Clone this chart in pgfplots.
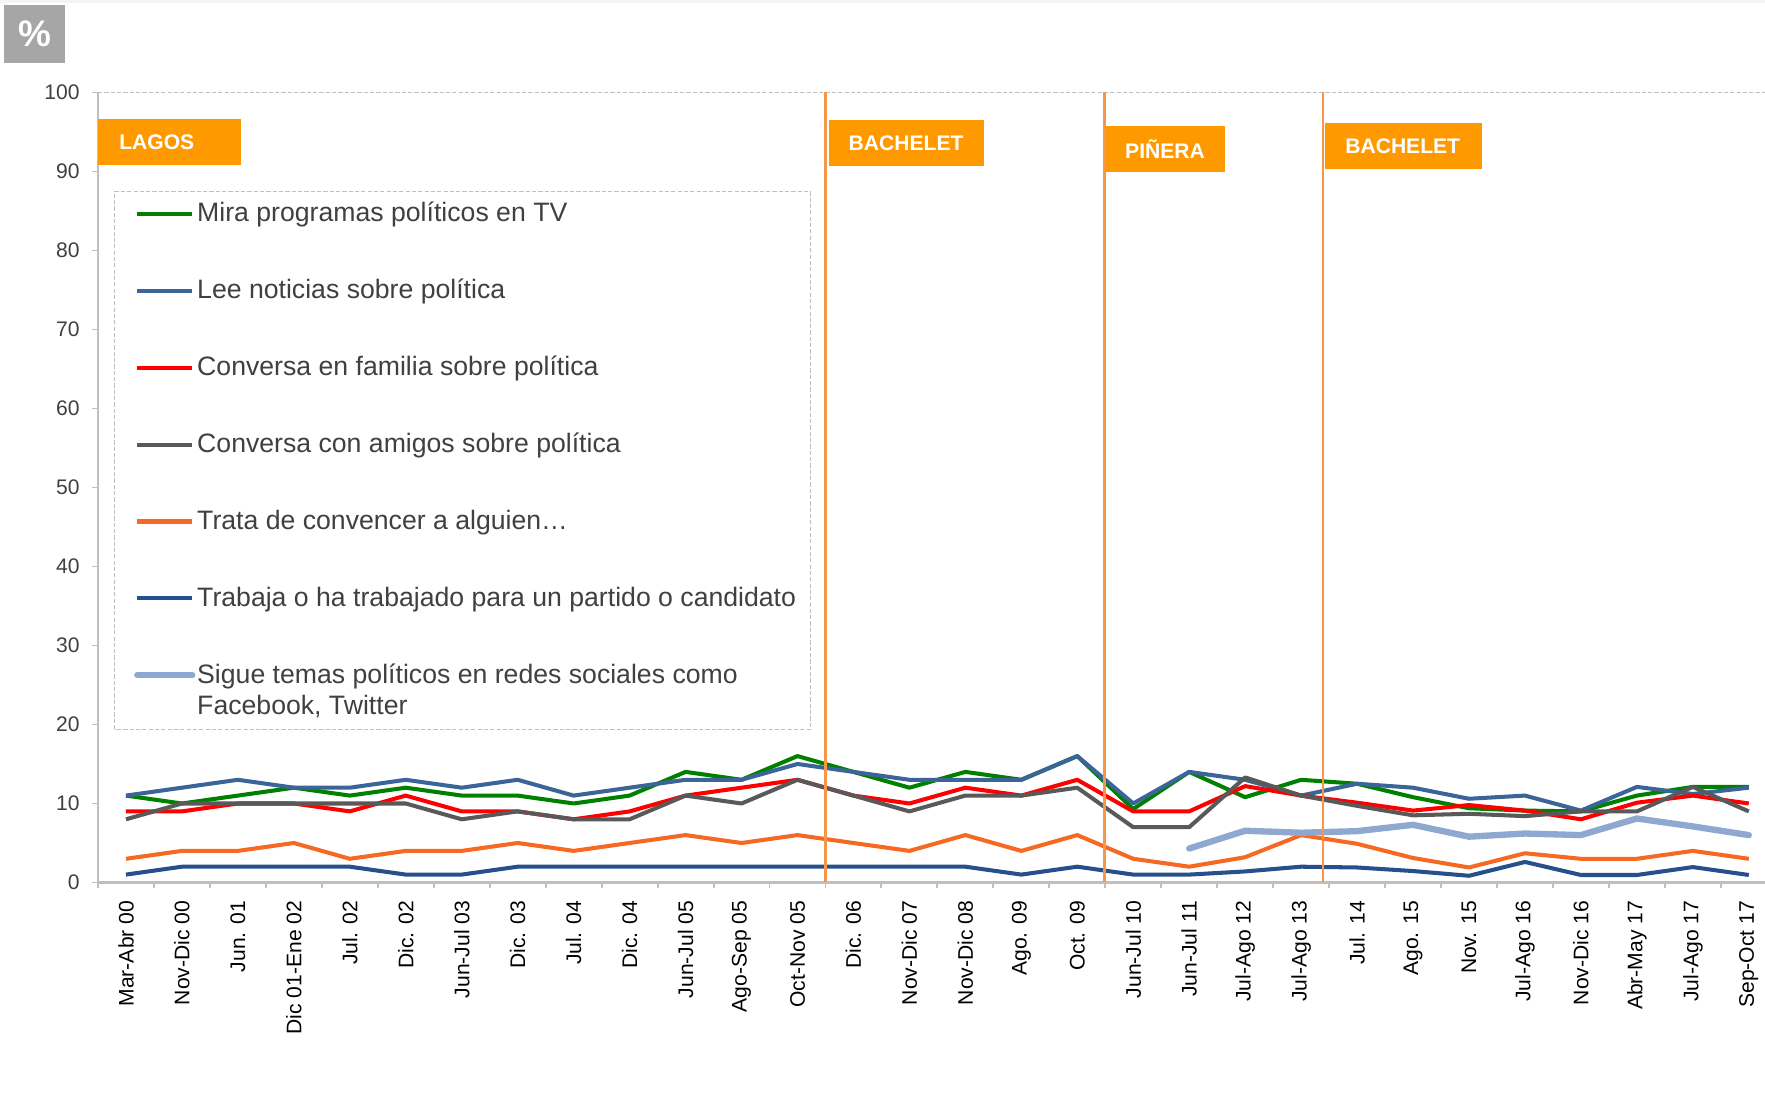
\documentclass[border=0pt]{standalone}
\usepackage{pgfplots}
\pgfplotsset{compat=1.18}
\usepackage{fontspec}
\setmainfont{Liberation Sans}

\definecolor{cTV}{RGB}{0,128,0}
\definecolor{cLee}{RGB}{59,100,152}
\definecolor{cFam}{RGB}{255,0,0}
\definecolor{cAmi}{RGB}{89,89,89}
\definecolor{cCon}{RGB}{245,105,35}
\definecolor{cTra}{RGB}{37,80,140}
\definecolor{cRed}{RGB}{142,168,208}
\definecolor{axgray}{RGB}{191,191,191}
\definecolor{labgray}{RGB}{64,64,64}
\definecolor{eraline}{RGB}{247,150,70}
\definecolor{erabox}{RGB}{255,153,0}
\definecolor{pctbox}{RGB}{166,166,166}

\begin{document}
\begin{tikzpicture}
\useasboundingbox (0,0) rectangle (17.65,11.15);
\fill[black!4] (0,11.115) rectangle (17.65,11.15);

\begin{axis}[
  at={(0.98cm,2.325cm)}, anchor=south west,
  scale only axis, width=16.67cm, height=7.9cm,
  xmin=-0.5, xmax=29.29, ymin=0, ymax=100,
  axis x line*=bottom, axis y line*=left,
  axis line style={-, draw=axgray, line width=0.65pt},
  xtick={0,...,29},
  xticklabels={Mar-Abr 00,Nov-Dic 00,Jun. 01,Dic 01-Ene 02,Jul. 02,Dic. 02,Jun-Jul 03,Dic. 03,Jul. 04,Dic. 04,Jun-Jul 05,Ago-Sep 05,Oct-Nov 05,Dic. 06,Nov-Dic 07,Nov-Dic 08,Ago. 09,Oct. 09,Jun-Jul 10,Jun-Jul 11,Jul-Ago 12,Jul-Ago 13,Jul. 14,Ago. 15,Nov. 15,Jul-Ago 16,Nov-Dic 16,Abr-May 17,Jul-Ago 17,Sep-Oct 17},
  major x tick style={draw=none},
  minor xtick={-0.5,0.5,...,29.5},
  ytick={0,10,...,100},
  tick align=outside,
  tick style={draw=axgray, line width=0.55pt},
  major tick length=1.7pt, minor tick length=1.7pt,
  x tick label style={rotate=90, anchor=east, font=\fontsize{6}{7}\selectfont, text=black},
  y tick label style={font=\fontsize{6}{7}\selectfont, text=labgray},
  /pgf/number format/assume math mode=true,
  every axis plot/.append style={line join=round, line width=1.15pt},
]
% Mira programas politicos en TV
\addplot[cTV] coordinates {
 (0,11) (1,10) (2,11) (3,12) (4,11) (5,12) (6,11) (7,11) (8,10) (9,11)
 (10,14) (11,13) (12,16) (13,14) (14,12) (15,14) (16,13) (17,16) (18,9.3) (19,14)
 (20,10.8) (21,13) (22,12.5) (23,10.8) (24,9.4) (25,9.1) (26,9.0) (27,11) (28,12.1) (29,12.1)};
% Lee noticias sobre politica
\addplot[cLee] coordinates {
 (0,11) (1,12) (2,13) (3,12) (4,12) (5,13) (6,12) (7,13) (8,11) (9,12)
 (10,13) (11,13) (12,15) (13,14) (14,13) (15,13) (16,13) (17,16) (18,10) (19,14)
 (20,13) (21,11) (22,12.5) (23,12.0) (24,10.6) (25,11) (26,9.1) (27,12.1) (28,11.2) (29,12)};
% Conversa en familia
\addplot[cFam] coordinates {
 (0,9) (1,9) (2,10) (3,10) (4,9) (5,11) (6,9) (7,9) (8,8) (9,9)
 (10,11) (11,12) (12,13) (13,11) (14,10) (15,12) (16,11) (17,13) (18,9) (19,9)
 (20,12.2) (21,11) (22,10.1) (23,9.1) (24,9.8) (25,9.1) (26,8.0) (27,10.1) (28,11) (29,10)};
% Conversa con amigos
\addplot[cAmi] coordinates {
 (0,8) (1,10) (2,10) (3,10) (4,10) (5,10) (6,8) (7,9) (8,8) (9,8)
 (10,11) (11,10) (12,13) (13,11) (14,9) (15,11) (16,11) (17,12) (18,7) (19,7)
 (20,13.3) (21,11) (22,9.7) (23,8.5) (24,8.7) (25,8.4) (26,9.0) (27,9.0) (28,12.1) (29,9.0)};
% Trata de convencer
\addplot[cCon] coordinates {
 (0,3) (1,4) (2,4) (3,5) (4,3) (5,4) (6,4) (7,5) (8,4) (9,5)
 (10,6) (11,5) (12,6) (13,5) (14,4) (15,6) (16,4) (17,6) (18,3) (19,2)
 (20,3.2) (21,6) (22,4.9) (23,3.1) (24,1.9) (25,3.7) (26,3.0) (27,3.0) (28,4.0) (29,3.0)};
% Trabaja para un partido
\addplot[cTra] coordinates {
 (0,1) (1,2) (2,2) (3,2) (4,2) (5,1) (6,1) (7,2) (8,2) (9,2)
 (10,2) (11,2) (12,2) (13,2) (14,2) (15,2) (16,1) (17,2) (18,1) (19,1)
 (20,1.4) (21,2) (22,1.9) (23,1.45) (24,0.85) (25,2.6) (26,0.95) (27,0.95) (28,1.95) (29,0.95)};
% Sigue temas en redes sociales
\addplot[cRed, line width=1.8pt, line cap=round] coordinates {
 (19,4.3) (20,6.55) (21,6.3) (22,6.5) (23,7.3) (24,5.8) (25,6.2) (26,6.0) (27,8.1) (28,7.1) (29,6.0)};

\draw[axgray, line width=0.3pt, dash pattern=on 1.2pt off 0.6pt] (rel axis cs:0,1) -- (rel axis cs:1,1);
\draw[eraline, line width=0.8pt] (axis cs:12.5,0) -- (axis cs:12.5,100);
\draw[eraline, line width=0.8pt] (axis cs:17.48,0) -- (axis cs:17.48,100);
\draw[eraline, line width=0.8pt] (axis cs:21.39,0) -- (axis cs:21.39,100);
\end{axis}

% percent box
\fill[pctbox] (0.04,10.517) rectangle (0.65,11.10);
\node[text=white, font=\fontsize{10.5}{12}\selectfont\bfseries] at (0.345,10.81) {\%};

% era boxes
\begin{scope}[font=\fontsize{6}{7}\selectfont\bfseries, every node/.style={text=white, inner sep=0pt, anchor=west}]
\fill[erabox] (0.976,9.50) rectangle (2.41,9.96);
\node at (1.186,9.73) {LAGOS};
\fill[erabox] (8.29,9.493) rectangle (9.84,9.95);
\node at (8.48,9.72) {BACHELET};
\fill[erabox] (11.05,9.433) rectangle (12.25,9.89);
\node at (11.245,9.66) {PIÑERA};
\fill[erabox] (13.245,9.463) rectangle (14.817,9.92);
\node at (13.446,9.69) {BACHELET};
\end{scope}

% legend
\draw[axgray, line width=0.3pt, dash pattern=on 1.2pt off 0.6pt] (1.147,3.857) rectangle (8.105,9.236);
\begin{scope}[font=\fontsize{7.58}{9.1}\selectfont, every node/.style={text=labgray, inner sep=0pt, anchor=base west}, line width=1.15pt]
\draw[cTV] (1.373,9.011) -- (1.923,9.011);
\node at (1.952,8.931) {Mira programas políticos en TV};
\draw[cLee] (1.373,8.242) -- (1.923,8.242);
\node at (1.952,8.162) {Lee noticias sobre política};
\draw[cFam] (1.373,7.473) -- (1.923,7.473);
\node at (1.952,7.393) {Conversa en familia sobre política};
\draw[cAmi] (1.373,6.704) -- (1.923,6.704);
\node at (1.952,6.624) {Conversa con amigos sobre política};
\draw[cCon] (1.373,5.935) -- (1.923,5.935);
\node at (1.952,5.855) {Trata de convencer a alguien…};
\draw[cTra] (1.373,5.166) -- (1.923,5.166);
\node at (1.952,5.086) {Trabaja o ha trabajado para un partido o candidato};
\draw[cRed, line width=1.8pt, line cap=round] (1.373,4.397) -- (1.923,4.397);
\node at (1.952,4.317) {Sigue temas políticos en redes sociales como};
\node at (1.952,4.000) {Facebook, Twitter};
\end{scope}
\end{tikzpicture}
\end{document}
